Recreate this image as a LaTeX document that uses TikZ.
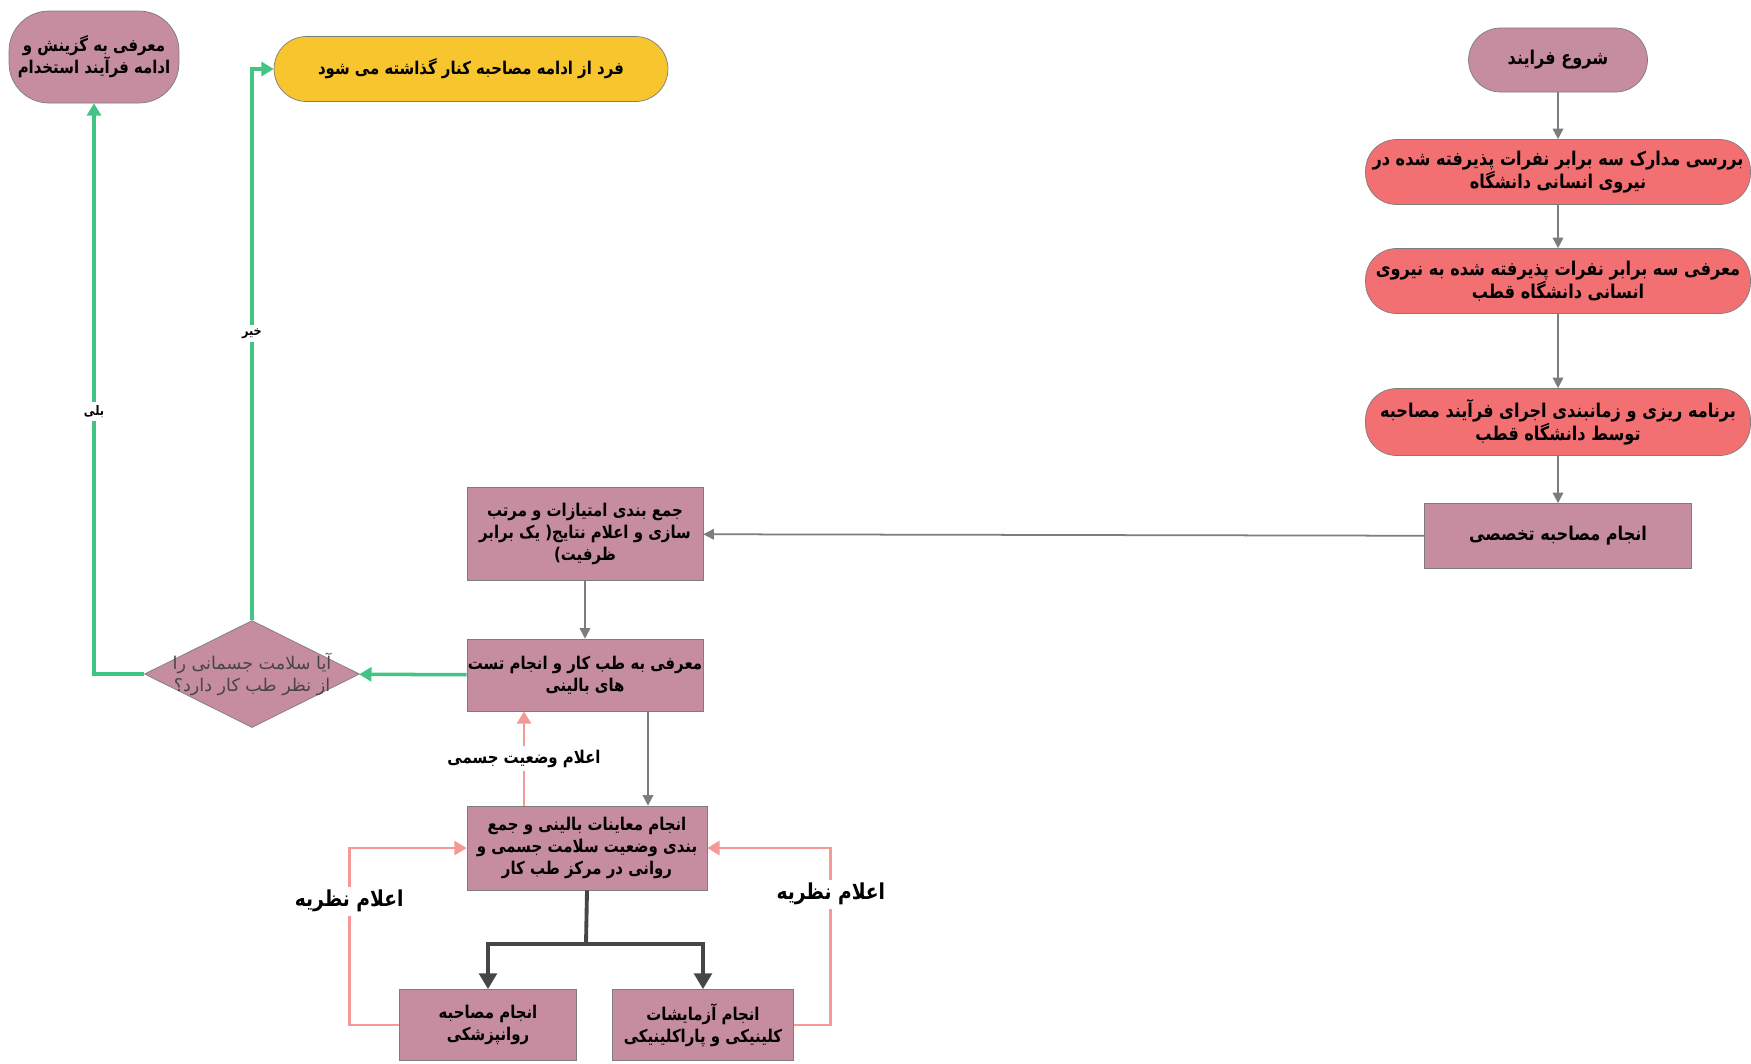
\documentclass[tikz,border=0pt]{standalone}
\usepackage{fontspec}
\usepackage{tikz}
\usetikzlibrary{shapes.geometric,arrows.meta}
\newfontfamily\fa[Script=Arabic,FakeStretch=0.85]{DejaVu Sans}
\newfontfamily\faplain[Script=Arabic]{DejaVu Sans}
\TeXXeTstate=1
\newcommand{\rl}[1]{\beginR #1\endR}
\definecolor{mauve}{RGB}{198,140,160}
\definecolor{salmon}{RGB}{242,112,114}
\definecolor{gold}{RGB}{247,197,45}
\definecolor{grn}{RGB}{66,196,130}
\definecolor{pnk}{RGB}{245,152,152}
\definecolor{edge}{RGB}{125,125,125}
\definecolor{dark}{RGB}{70,70,70}

\begin{document}
\begin{tikzpicture}[x=0.02cm,y=-0.02cm,>={Triangle[width=6pt,length=6pt]},
  every node/.style={font=\fa\bfseries\fontsize{10}{12.5}\selectfont,align=center,inner sep=0pt},
  big/.style={font=\fa\bfseries\fontsize{10.8}{13}\selectfont},
  box/.style={draw=edge,fill=mauve,minimum width=#1,minimum height=1.3cm},
  pill/.style={big,draw=edge,fill=salmon,rounded corners=0.62cm,minimum width=7.7cm,minimum height=1.3cm},
  flow/.style={edge,line width=1pt,->},
  yes/.style={grn,line width=2pt,-{Triangle[width=8pt,length=7pt]}},
  note/.style={pnk,line width=1.6pt,-{Triangle[width=8pt,length=7pt]}},
  tag/.style={fill=white,text=black,inner sep=2pt}]
\useasboundingbox (0,0) rectangle (1751,1063);

% right column
\node[big,draw=edge,fill=mauve,rounded corners=0.64cm,minimum width=3.58cm,minimum height=1.28cm] (start) at (1558,60) {\rl{شروع فرایند}};
\node[pill] (docs) at (1558,172) {\rl{بررسی مدارک سه برابر نفرات پذیرفته شده در}\\\rl{نیروی انسانی دانشگاه}};
\node[pill] (intro) at (1558,281) {\rl{معرفی سه برابر نفرات پذیرفته شده به نیروی}\\\rl{انسانی دانشگاه قطب}};
\node[pill,minimum height=1.34cm] (plan) at (1558,422) {\rl{برنامه ریزی و زمانبندی اجرای فرآیند مصاحبه}\\\rl{توسط دانشگاه قطب}};
\node[big,box=5.34cm] (interview) at (1558,536) {\rl{انجام مصاحبه تخصصی}};

% middle column
\node[box=4.72cm,minimum height=1.86cm] (rank) at (585,534) {\rl{جمع بندی امتیازات و مرتب}\\\rl{سازی و اعلام نتایج( یک برابر}\\\rl{ظرفیت)}};
\node[box=4.72cm,minimum height=1.44cm] (occ) at (585,675) {\rl{معرفی به طب کار و انجام تست}\\\rl{های بالینی}};
\node[box=4.8cm,minimum height=1.68cm] (exam) at (587,848) {\rl{انجام معاینات بالینی و جمع}\\\rl{بندی وضعیت سلامت جسمی و}\\\rl{روانی در مرکز طب کار}};
\node[box=3.54cm,minimum height=1.42cm] (psych) at (488,1025) {\rl{انجام مصاحبه}\\\rl{روانپزشکی}};
\node[box=3.62cm,minimum height=1.42cm] (lab) at (703,1025) {\rl{انجام آزمایشات}\\\rl{کلینیکی و پاراکلینیکی}};

% left side
\node[diamond,draw=edge,fill=mauve,minimum width=4.3cm,minimum height=2.14cm] (check) at (252,674) {};
\node[font=\faplain\fontsize{10}{12.5}\selectfont,text=dark] (checktext) at (check) {\rl{آیا سلامت جسمانی را}\\\rl{از نظر طب کار دارد؟}};
\node[draw=edge,fill=mauve,rounded corners=0.8cm,minimum width=3.4cm,minimum height=1.84cm] (hire) at (94,57) {\rl{معرفی به گزینش و}\\\rl{ادامه فرآیند استخدام}};
\node[draw=edge,fill=gold,rounded corners=0.65cm,minimum width=7.88cm,minimum height=1.3cm] (out) at (471,69) {\rl{فرد از ادامه مصاحبه کنار گذاشته می شود}};

% connectors
\draw[flow] (start) -- (docs);
\draw[flow] (docs) -- (intro);
\draw[flow] (intro) -- (plan);
\draw[flow] (plan) -- (interview);
\draw[flow] (interview) -- (rank);
\draw[flow] (rank) -- (occ);
\draw[flow] ([xshift=1.26cm]occ.south) -- ([xshift=1.26cm]occ.south |- exam.north);
\draw[note] ([xshift=-1.26cm]exam.north) -- ([xshift=-1.26cm]exam.north |- occ.south)
  node[tag,midway,font=\fa\bfseries\fontsize{10}{12}\selectfont] {\rl{اعلام وضعیت جسمی}};
\draw[yes] (occ) -- (check);
\draw[yes] (check.north) |- (out.west) node[tag,pos=0.26,font=\fa\bfseries\fontsize{7.5}{8}\selectfont] {\rl{خیر}};
\draw[yes] (check.west) -| (hire.south) node[tag,pos=0.73,font=\fa\bfseries\fontsize{7.5}{8}\selectfont] {\rl{بلی}};

\coordinate (split) at (586,944);
\draw[dark,line width=2.2pt] (exam.south) -- (split);
\draw[dark,line width=2.2pt,-{Triangle[width=10pt,length=9pt]}] (split) -| (psych.north);
\draw[dark,line width=2.2pt,-{Triangle[width=10pt,length=9pt]}] (split) -| (lab.north);

\draw[note] (psych.west) -- ++(-1cm,0) |- (exam.west)
  node[tag,pos=0.35,font=\fa\bfseries\fontsize{12.5}{15}\selectfont] {\rl{اعلام نظریه}};
\draw[note] (lab.east) -- ++(0.74cm,0) |- (exam.east)
  node[tag,pos=0.37,font=\fa\bfseries\fontsize{12.5}{15}\selectfont] {\rl{اعلام نظریه}};
\end{tikzpicture}
\end{document}
